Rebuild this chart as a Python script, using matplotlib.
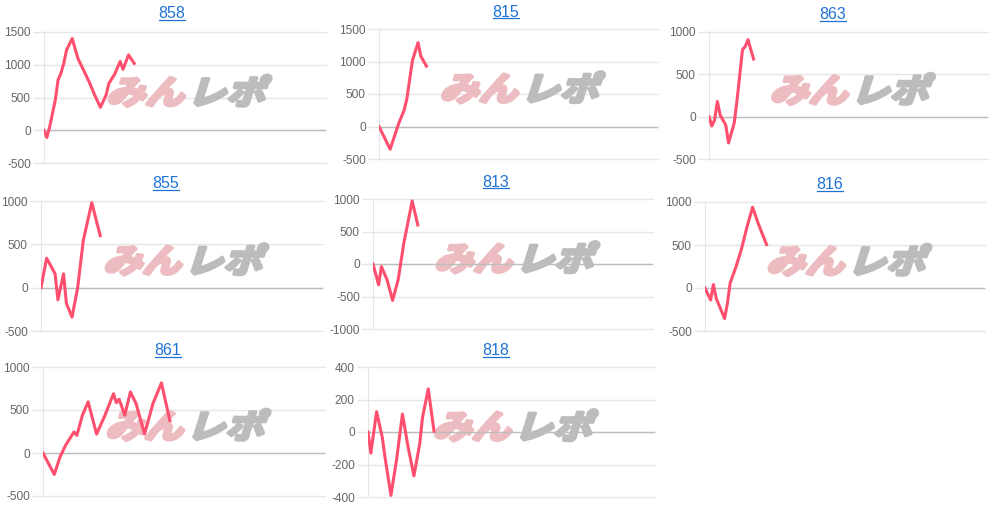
import matplotlib
matplotlib.use('Agg')
import matplotlib.pyplot as plt
import matplotlib.transforms as mtransforms
from matplotlib.textpath import TextPath
from matplotlib.patches import PathPatch
from matplotlib.font_manager import FontProperties
from matplotlib.lines import Line2D

plt.rcParams['font.family'] = ['Liberation Sans', 'DejaVu Sans']
plt.rcParams['axes.unicode_minus'] = False

# --- dane (dzien -> wynik) ---
titles = ['858', '815', '863', '855', '813', '816', '861', '818']

days_858 = [0, 1, 2, 4, 5, 6, 7, 8, 10, 12, 14, 16, 18, 20, 22, 23, 25, 27, 28, 30, 32]
vals_858 = [0, -110, 50, 460, 770, 870, 1020, 1225, 1400, 1100, 920, 740, 535, 350, 535, 715, 850, 1050, 930, 1150, 1020]

days_815 = [0, 4, 7, 9, 10, 12, 14, 15, 17]
vals_815 = [0, -350, 40, 250, 430, 1020, 1290, 1080, 930]

days_863 = [0, 1, 2, 3, 4, 6, 7, 9, 10, 12, 13, 14, 15, 16]
vals_863 = [0, -110, -40, 180, 20, -100, -310, -80, 180, 790, 830, 910, 790, 680]

days_855 = [0, 2, 5, 6, 8, 9, 11, 13, 15, 18, 21]
vals_855 = [0, 340, 160, -140, 160, -180, -340, 0, 545, 980, 600]

days_813 = [0, 2, 3, 5, 7, 9, 11, 14, 16]
vals_813 = [0, -320, -40, -240, -560, -240, 320, 970, 600]

days_816 = [0, 2, 3, 4, 7, 8, 9, 11, 13, 15, 17, 19, 22]
vals_816 = [0, -140, 40, -120, -355, -180, 60, 240, 450, 710, 940, 750, 505]

days_861 = [0, 4, 6, 8, 11, 12, 14, 16, 19, 22, 25, 26, 27, 29, 31, 33, 36, 39, 40, 42, 45]
vals_861 = [0, -250, -50, 90, 245, 205, 440, 595, 220, 440, 690, 585, 625, 440, 710, 575, 220, 575, 655, 815, 375]

days_818 = [0, 1, 3, 5, 6, 8, 10, 12, 14, 16, 18, 19, 21, 23]
vals_818 = [0, -130, 125, -35, -165, -390, -165, 110, -95, -270, -75, 90, 265, 5]

all_days = [days_858, days_815, days_863, days_855, days_813, days_816, days_861, days_818]
all_vals = [vals_858, vals_815, vals_863, vals_855, vals_813, vals_816, vals_861, vals_818]

y_ticks = [
    [-500, 0, 500, 1000, 1500],
    [-500, 0, 500, 1000, 1500],
    [-500, 0, 500, 1000],
    [-500, 0, 500, 1000],
    [-1000, -500, 0, 500, 1000],
    [-500, 0, 500, 1000],
    [-500, 0, 500, 1000],
    [-400, -200, 0, 200, 400],
]

# --- uklad w pikselach: lewo, prawo, gora, dol ---
boxes = [
    (44, 326, 32, 163), (379, 658, 29, 159), (709, 988, 32, 159),
    (41, 323, 201, 331), (373, 653, 199, 329), (705, 985, 202, 331),
    (43, 325, 367, 496), (368, 655, 367, 497),
]
title_pos = [(172, 18.3), (506, 16.7), (833, 19.3),
             (166, 188.3), (496, 186.7), (830, 189.3),
             (168, 355), (496, 355)]

W, H = 992, 508
LINE_COLOR = '#ff4f6e'
GRID = '#e6e6e6'
TITLE_COLOR = '#1f72d6'

fig = plt.figure(figsize=(W / 100, H / 100), dpi=100)
wm_font = FontProperties(family='Noto Sans CJK JP', weight='bold')


def watermark(ax):
    """Logo w tle wykresu."""
    for i, (txt, col) in enumerate([('みん', '#ecbcc0'), ('レポ', '#bcbcbc')]):
        path = TextPath((0, 0), txt, size=1, prop=wm_font)
        tr = (mtransforms.Affine2D().translate(2.08 * i, 0).skew_deg(15, 0)
              .scale(39, 33).translate(-82, -13)
              + mtransforms.ScaledTranslation(0.51, 0.55, ax.transAxes))
        ax.add_patch(PathPatch(path, fc=col, ec=col, lw=2.6, joinstyle='round',
                               transform=tr, zorder=1.5))


title_texts = []
for i, (l, r, t, b) in enumerate(boxes):
    ax = fig.add_axes([l / W, 1 - b / H, (r - l) / W, (b - t) / H])
    watermark(ax)
    ax.plot(all_days[i], all_vals[i], color=LINE_COLOR, lw=2.2, zorder=3)
    ax.axhline(0, color='#bdbdbd', lw=1, zorder=2)
    ax.set_xlim(0, 100)
    ax.set_ylim(y_ticks[i][0], y_ticks[i][-1])
    ax.set_yticks(y_ticks[i])
    ax.set_xticks([])
    ax.grid(axis='y', color=GRID, lw=1, zorder=0)
    for g in ax.get_ygridlines():
        g.set_clip_on(False)
    ax.set_axisbelow(True)
    for s in ['top', 'right', 'bottom']:
        ax.spines[s].set_visible(False)
    ax.spines['left'].set_color(GRID)
    ax.tick_params(axis='y', length=8, width=1, color=GRID,
                   labelcolor='#666666', labelsize=8.6, pad=1.5)

    tx, ty = title_pos[i]
    title_texts.append(fig.text(tx / W, 1 - ty / H, titles[i], ha='center', va='baseline',
                                fontsize=11.5, color=TITLE_COLOR))

# podkreslenie tytulow (jak link)
fig.canvas.draw()
renderer = fig.canvas.get_renderer()
for i, txt in enumerate(title_texts):
    bb = txt.get_window_extent(renderer)
    yb = H - title_pos[i][1] - 1.5
    fig.add_artist(Line2D([bb.x0, bb.x1], [yb, yb], transform=None,
                          color=TITLE_COLOR, lw=0.9))

fig.savefig('out.png', dpi=100)
